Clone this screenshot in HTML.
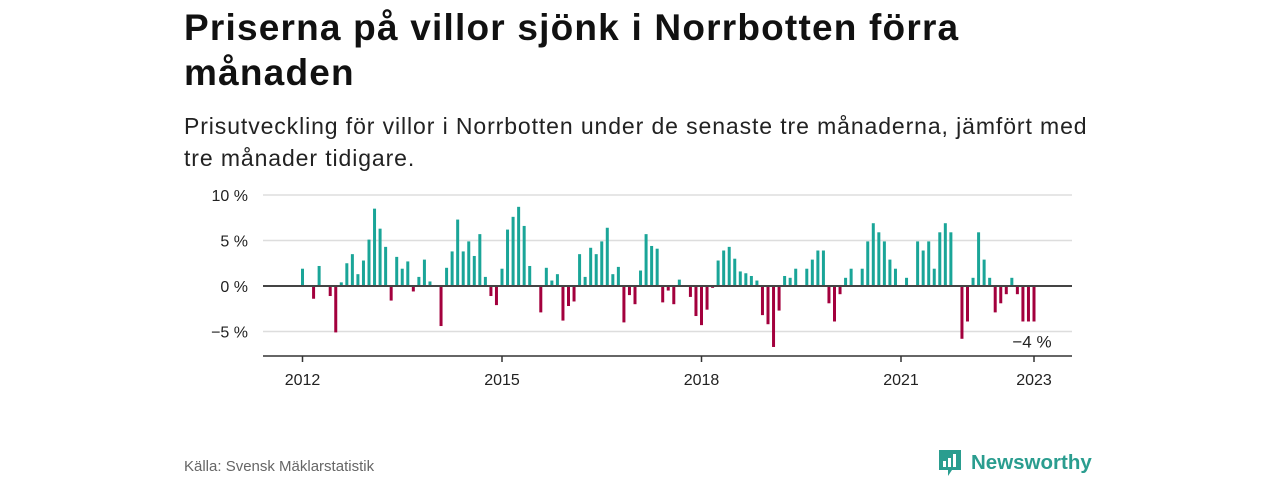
<!DOCTYPE html>
<html><head><meta charset="utf-8"><style>
body{margin:0;width:1280px;height:480px;background:#fff;font-family:"Liberation Sans","DejaVu Sans",sans-serif;position:relative;overflow:hidden;color:#111}
h1{position:absolute;left:184px;top:5px;margin:0;font-size:37px;line-height:45px;font-weight:bold;width:820px;letter-spacing:1.2px}
.sub{position:absolute;left:184px;top:110px;font-size:23px;line-height:32px;color:#222;width:925px;letter-spacing:0.9px}
.src{position:absolute;left:184px;top:458px;font-size:15px;color:#666}
.logo{position:absolute;left:937px;top:448px;display:flex;align-items:center;color:#2a9d8f;font-weight:bold;font-size:20.5px}
</style></head><body>
<h1>Priserna på villor sjönk i Norrbotten förra månaden</h1>
<div class="sub">Prisutveckling för villor i Norrbotten under de senaste tre månaderna, jämfört med tre månader tidigare.</div>
<svg id="chart" width="1280" height="480" style="position:absolute;left:0;top:0"></svg>
<div class="src">Källa: Svensk Mäklarstatistik</div>
<div class="logo"><svg width="26" height="30" viewBox="0 0 26 30"><path d="M2 2h22v20h-9l-4 6v-6H2z" fill="#2a9d8f"/><rect x="6" y="13" width="3" height="6" fill="#fff"/><rect x="11" y="10" width="3" height="9" fill="#fff"/><rect x="16" y="6" width="3" height="13" fill="#fff"/></svg><span style="margin-left:8px">Newsworthy</span></div>
<script>
const values=[1.9,0,-1.4,2.2,0,-1.1,-5.1,0.4,2.5,3.5,1.3,2.8,5.1,8.5,6.3,4.3,-1.6,3.2,1.9,2.7,-0.6,1.0,2.9,0.5,0,-4.4,2.0,3.8,7.3,3.8,4.9,3.3,5.7,1.0,-1.1,-2.1,1.9,6.2,7.6,8.7,6.6,2.2,0,-2.9,2.0,0.6,1.3,-3.8,-2.2,-1.7,3.5,1.0,4.2,3.5,4.9,6.4,1.3,2.1,-4.0,-1.0,-2.0,1.7,5.7,4.4,4.1,-1.8,-0.5,-2.0,0.7,-0.1,-1.2,-3.3,-4.3,-2.6,-0.2,2.8,3.9,4.3,3.0,1.6,1.4,1.1,0.6,-3.2,-4.2,-6.7,-2.7,1.1,0.9,1.9,0,1.9,2.9,3.9,3.9,-1.9,-3.9,-0.9,0.9,1.9,0,1.9,4.9,6.9,5.9,4.9,2.9,1.9,0,0.9,0,4.9,3.9,4.9,1.9,5.9,6.9,5.9,0,-5.8,-3.9,0.9,5.9,2.9,0.9,-2.9,-1.9,-0.9,0.9,-0.9,-3.9,-3.9,-3.9];
const yTicks=[10,5,0,-5];
const yTickLabels=["10 %","5 %","0 %","−5 %"];
const xTickIdx=[0,36,72,108,132];
const xTickLabels=["2012","2015","2018","2021","2023"];
const NS="http://www.w3.org/2000/svg";
const svg=document.getElementById('chart');
const x=i=>302.5+i*(1034-302.5)/132;
const y=v=>286-v*9.1;
function mk(t,a){const e=document.createElementNS(NS,t);for(const k in a)e.setAttribute(k,a[k]);svg.appendChild(e);return e;}
yTicks.forEach((t,k)=>{
  if(t!==0){const g=mk('line',{x1:263,x2:1072,y1:y(t),y2:y(t),stroke:'#ddd','stroke-width':1.5});
  
  }
  const l=mk('text',{x:248,y:y(t)+6,'text-anchor':'end','font-size':16,fill:'#222','font-family':'Liberation Sans, sans-serif'});
  l.textContent=yTickLabels[k];
  
  
});
values.forEach((v,i)=>{
  if(v===0)return;
  const r=mk('rect',{x:x(i)-1.5,width:3,y:Math.min(y(v),y(0)),height:Math.abs(y(v)-y(0)),fill:v>0?'#1aa598':'#a3003d'});
  
  
});
const z=mk('line',{x1:263,x2:1072,y1:y(0),y2:y(0),stroke:'#444','stroke-width':2});


const ax=mk('line',{x1:263,x2:1072,y1:356,y2:356,stroke:'#333','stroke-width':1.5});


xTickIdx.forEach((ix,k)=>{
  const t=mk('line',{x1:x(ix),x2:x(ix),y1:356,y2:362,stroke:'#333','stroke-width':1.5});
  
  
  const l=mk('text',{x:x(ix),y:385,'text-anchor':'middle','font-size':16,fill:'#222','font-family':'Liberation Sans, sans-serif'});
  l.textContent=xTickLabels[k];
  
  
});
const last=values[values.length-1];
const ann=mk('text',{x:x(values.length-1)-2,y:y(last)+26,'text-anchor':'middle','font-size':17,fill:'#222','font-family':'Liberation Sans, sans-serif'});
ann.textContent='−'+Math.round(Math.abs(last))+' %';


</script>
</body></html>
